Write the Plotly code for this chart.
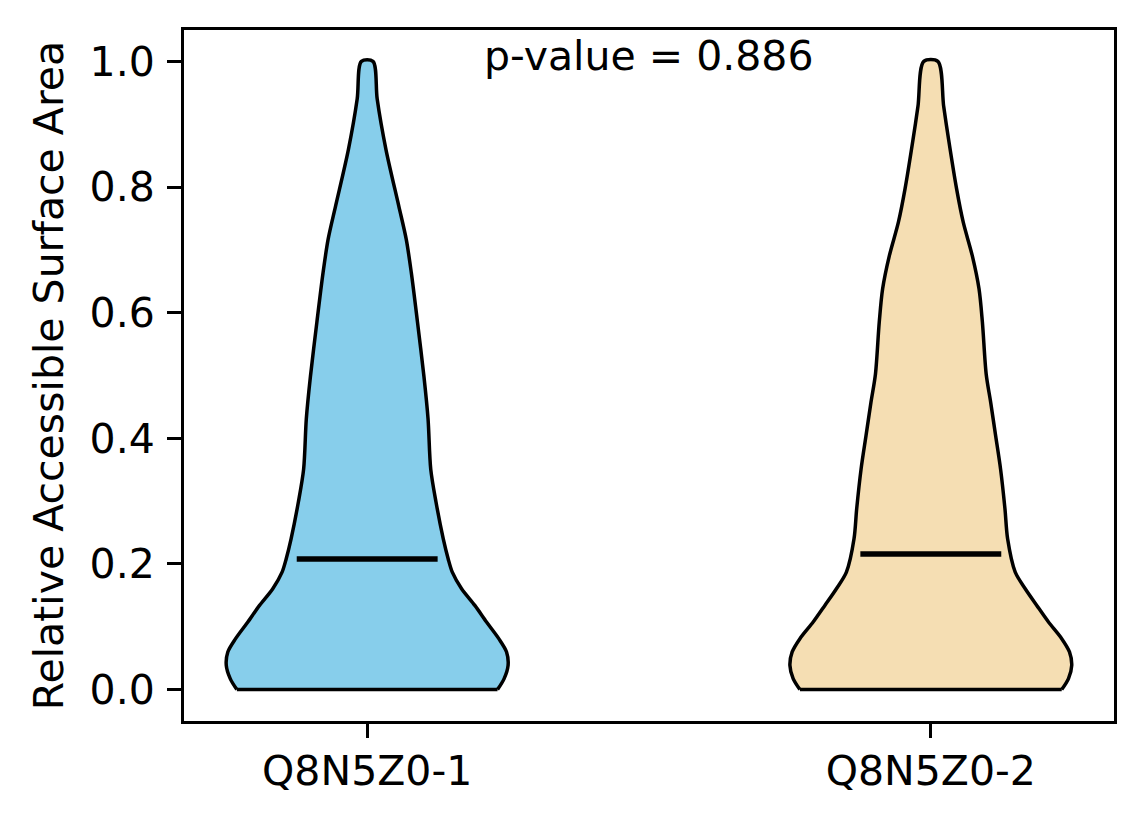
import numpy as np
import plotly.graph_objects as go

# violin outlines: y levels and density (normalised, max = 1)
labels = ["Q8N5Z0-1", "Q8N5Z0-2"]
positions = [1, 2]
colors = ["#87CEEB", "#F5DEB3"]

y1 = [0.000, 0.0175, 0.0386, 0.0599, 0.0811, 0.1076, 0.134, 0.1606, 0.187, 0.208,
      0.240, 0.299, 0.351, 0.431, 0.498, 0.585, 0.664, 0.717, 0.770, 0.860, 0.940, 1.000]
dens1 = [0.925, 0.972, 1.000, 0.989, 0.934, 0.847, 0.764, 0.670, 0.604, 0.575,
         0.540, 0.488, 0.451, 0.432, 0.403, 0.357, 0.313, 0.277, 0.224, 0.133, 0.071, 0.041]

y2 = [0.000, 0.0175, 0.0386, 0.0599, 0.0811, 0.1076, 0.134, 0.1606, 0.187, 0.240,
      0.288, 0.351, 0.404, 0.457, 0.502, 0.585, 0.638, 0.690, 0.744, 0.797, 0.876, 0.929, 1.000]
dens2 = [0.929, 0.977, 1.000, 0.984, 0.929, 0.835, 0.752, 0.670, 0.599, 0.545,
         0.526, 0.495, 0.460, 0.425, 0.393, 0.366, 0.342, 0.295, 0.230, 0.183, 0.126, 0.091, 0.050]

medians = [0.208, 0.216]
p_value = 0.886

width = 0.5  # matplotlib violinplot default

fig = go.Figure()
for pos, yy, dd, col, med in zip(positions, [y1, y2], [dens1, dens2], colors, medians):
    yy = np.array(yy)
    hw = np.array(dd) * width / 2
    xs = np.concatenate([pos - hw, (pos + hw)[::-1]])
    ys = np.concatenate([yy, yy[::-1]])
    # sides as a smooth curve, fill closes with a straight bottom
    fig.add_trace(go.Scatter(x=xs, y=ys, fill="toself", fillcolor=col, mode="lines",
                             line=dict(color="black", width=3.5, shape="spline", smoothing=0.85),
                             hoverinfo="skip", showlegend=False))
    fig.add_trace(go.Scatter(x=[pos - hw[0], pos + hw[0]], y=[yy[0], yy[0]], mode="lines",
                             line=dict(color="black", width=3.5), hoverinfo="skip", showlegend=False))
    fig.add_trace(go.Scatter(x=[pos - width / 4, pos + width / 4], y=[med, med], mode="lines",
                             line=dict(color="black", width=5.5), showlegend=False))

fig.add_annotation(x=1.5, y=1, xref="x", yref="paper", yanchor="top", yshift=0,
                   text=f"p-value = {p_value}", showarrow=False,
                   font=dict(size=41, color="black"))

axis_style = dict(showgrid=False, zeroline=False, showline=True, linecolor="black", linewidth=3,
                  mirror=True, ticks="outside", ticklen=14, tickwidth=3, tickcolor="black",
                  tickfont=dict(size=41, color="black"))
fig.update_xaxes(range=[0.675, 2.325], tickvals=positions, ticktext=labels,
                 ticklabelstandoff=-2, **axis_style)
fig.update_yaxes(range=[-0.05, 1.05], tickvals=[0, 0.2, 0.4, 0.6, 0.8, 1.0], tickformat=".1f",
                 ticklabelstandoff=4,
                 title=dict(text="Relative Accessible Surface Area", font=dict(size=41, color="black"),
                            standoff=14),
                 **axis_style)
fig.update_layout(width=1144, height=824, margin=dict(l=184, r=30, t=30, b=103),
                  plot_bgcolor="white", paper_bgcolor="white",
                  font=dict(family="DejaVu Sans", color="black"))
fig.write_html("out.html", config={"displayModeBar": False},
               post_script="document.body.style.margin='0';")
